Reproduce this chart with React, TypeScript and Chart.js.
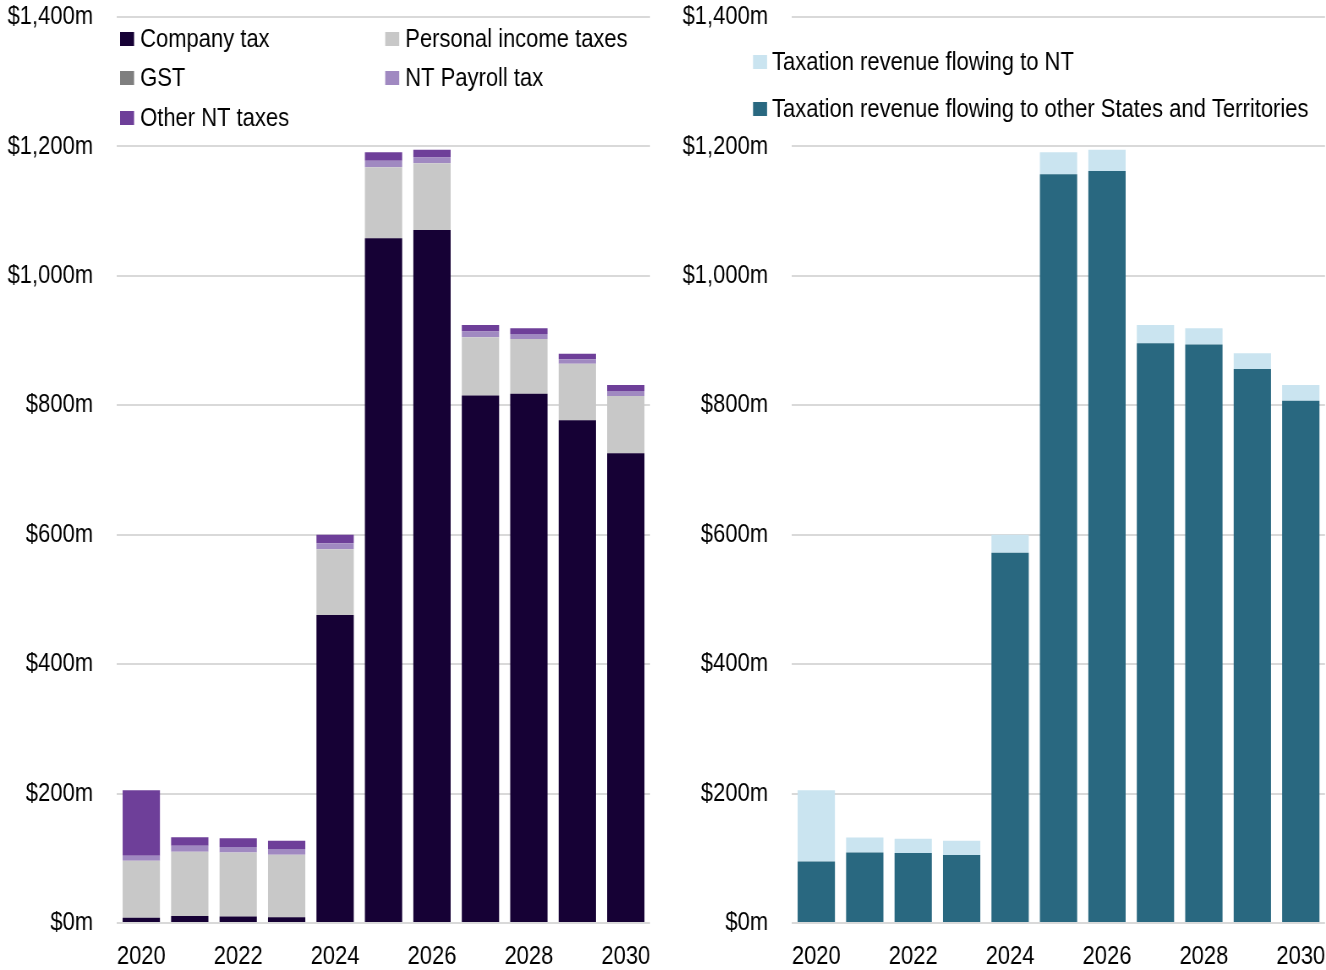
import React, { useEffect, useRef } from 'react';
import { Chart, registerables } from 'chart.js';

Chart.register(...registerables);

// ---------- data ----------
const years = ['2020', '2021', '2022', '2023', '2024', '2025', '2026', '2027', '2028', '2029', '2030'];
const yTicks = [0, 200, 400, 600, 800, 1000, 1200, 1400];

const companyTax = [8, 11, 10, 9, 476, 1058, 1071, 815, 818, 777, 726];
const personalIncomeTaxes = [88, 99, 99, 96.5, 101.5, 110, 103, 90, 84.5, 87, 88.5];
const gst = [0, 0, 0, 0, 0, 0, 0, 0, 0, 0, 0];
const ntPayrollTax = [8, 9.5, 8.5, 9, 9.5, 10, 9, 9, 7.5, 7, 7.5];
const otherNtTaxes = [101, 13, 13.5, 12.5, 13, 13, 12, 10, 9, 8.5, 9.5];

const flowingToOther = [95, 109, 108, 105, 572, 1157, 1162, 896, 894, 856, 807];
const flowingToNt = [110, 23, 22, 22, 28, 34, 33, 28, 25, 24.5, 24.5];

// ---------- style ----------
// The reference uses a narrow sans; we render with Liberation Sans on a wider
// bitmap and display it horizontally condensed (similar to Arial Narrow).
const SX = 0.845;
const ix = (cssPx: number) => cssPx / SX; // css px -> internal canvas px
const CSS_W = 651;
const CSS_H = 970;
const INT_W = Math.round(CSS_W / SX);

const FONT_FAMILY = "'Liberation Sans', Arial, sans-serif";
const FONT_SIZE = 26;
const GRID = '#D9D9D9';

const fmt = (v: number) => '$' + v.toLocaleString('en-US') + 'm';

const legendPlugin = {
  id: 'customLegend',
  afterDraw(chart: any, _args: any, opts: any) {
    const ctx = chart.ctx;
    const items = opts.items || [];
    ctx.save();
    ctx.font = `${FONT_SIZE}px ${FONT_FAMILY}`;
    ctx.textBaseline = 'middle';
    ctx.textAlign = 'left';
    items.forEach((it: any) => {
      const ds = chart.data.datasets[it.index];
      ctx.fillStyle = ds.backgroundColor;
      ctx.fillRect(ix(it.x), it.y - 7, ix(14), 14);
      ctx.fillStyle = '#000';
      ctx.fillText(ds.label, ix(it.x + it.gap), it.y + 1);
    });
    ctx.restore();
  },
};

function makeOptions(legendItems: any[]) {
  return {
    responsive: false,
    animation: false as const,
    maintainAspectRatio: false,
    devicePixelRatio: 1,
    layout: { padding: { top: 17, right: ix(1), left: 0, bottom: 0 } },
    plugins: {
      legend: { display: false },
      tooltip: { enabled: false },
      customLegend: { items: legendItems },
    },
    datasets: { bar: { categoryPercentage: 1, barPercentage: 0.77 } },
    scales: {
      x: {
        stacked: true,
        grid: { display: false, drawTicks: false, tickLength: 0 },
        border: { display: false },
        ticks: {
          autoSkip: false,
          maxRotation: 0,
          padding: 18,
          color: '#000',
          font: { family: FONT_FAMILY, size: FONT_SIZE },
          callback: (_v: any, i: number) => (i % 2 === 0 ? years[i] : ''),
        },
        afterFit: (s: any) => {
          s.height = 47;
          s.paddingLeft = 0;
          s.paddingRight = 0;
        },
      },
      y: {
        stacked: true,
        min: 0,
        max: 1400,
        afterBuildTicks: (s: any) => {
          s.ticks = yTicks.map((v) => ({ value: v }));
        },
        grid: { color: GRID, lineWidth: 2, drawTicks: false, tickLength: 0 },
        border: { display: false },
        ticks: {
          padding: ix(24),
          color: '#000',
          font: { family: FONT_FAMILY, size: FONT_SIZE },
          callback: (v: any) => fmt(Number(v)),
        },
        afterFit: (s: any) => {
          s.width = ix(117);
          s.paddingTop = 0;
          s.paddingBottom = 0;
        },
      },
    },
  };
}

const canvasStyle = (left: number): React.CSSProperties => ({
  position: 'absolute',
  left,
  top: 0,
  width: CSS_W,
  height: CSS_H,
});

function LeftChart() {
  const ref = useRef<HTMLCanvasElement>(null);
  useEffect(() => {
    if (!ref.current) return;
    const chart = new Chart(ref.current, {
      type: 'bar',
      data: {
        labels: years,
        datasets: [
          { label: 'Company tax', data: companyTax, backgroundColor: '#160135' },
          { label: 'Personal income taxes', data: personalIncomeTaxes, backgroundColor: '#C8C8C8' },
          { label: 'GST', data: gst, backgroundColor: '#7F7F7F' },
          { label: 'NT Payroll tax', data: ntPayrollTax, backgroundColor: '#A089C1' },
          { label: 'Other NT taxes', data: otherNtTaxes, backgroundColor: '#6E3F99' },
        ],
      },
      options: makeOptions([
        { index: 0, x: 120, y: 39, gap: 20 },
        { index: 1, x: 385, y: 39, gap: 20 },
        { index: 2, x: 120, y: 78, gap: 20 },
        { index: 3, x: 385, y: 78, gap: 20 },
        { index: 4, x: 120, y: 118, gap: 20 },
      ]) as any,
      plugins: [legendPlugin],
    });
    return () => chart.destroy();
  }, []);
  return <canvas ref={ref} width={INT_W} height={CSS_H} style={canvasStyle(0)} />;
}

function RightChart() {
  const ref = useRef<HTMLCanvasElement>(null);
  useEffect(() => {
    if (!ref.current) return;
    const chart = new Chart(ref.current, {
      type: 'bar',
      data: {
        labels: years,
        datasets: [
          { label: 'Taxation revenue flowing to other States and Territories', data: flowingToOther, backgroundColor: '#296880' },
          { label: 'Taxation revenue flowing to NT', data: flowingToNt, backgroundColor: '#CAE4F0' },
        ],
      },
      options: makeOptions([
        { index: 1, x: 78, y: 62, gap: 19 },
        { index: 0, x: 78, y: 109, gap: 19 },
      ]) as any,
      plugins: [legendPlugin],
    });
    return () => chart.destroy();
  }, []);
  return <canvas ref={ref} width={INT_W} height={CSS_H} style={canvasStyle(675)} />;
}

export default function App() {
  return (
    <div style={{ position: 'absolute', left: 0, top: 0, width: 1326, height: 970, background: '#fff', overflow: 'hidden' }}>
      <LeftChart />
      <RightChart />
    </div>
  );
}
